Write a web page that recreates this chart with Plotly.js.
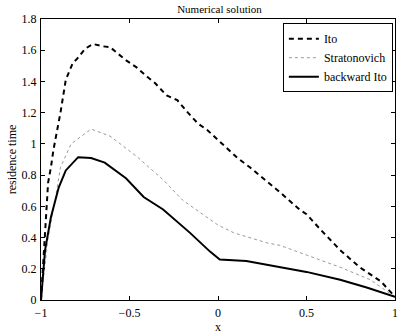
<!DOCTYPE html>
<html><head><meta charset="utf-8">
<script src="https://cdn.plot.ly/plotly-3.0.1.min.js"></script>
<style>html,body{margin:0;padding:0;background:#fff}#c{width:399px;height:334px}</style>
</head><body><div id="c"></div>
<script>
const itoX = [-1, -0.977, -0.96, -0.944, -0.93, -0.89, -0.86, -0.82, -0.80, -0.75, -0.706, -0.65, -0.61, -0.525, -0.46, -0.40, -0.356, -0.29, -0.23, -0.17, -0.113, -0.062, 0.05, 0.11, 0.18, 0.35, 0.46, 0.5, 0.58, 0.69, 0.8, 0.92, 1];
const itoY = [0.0, 0.43, 0.75, 0.85, 0.96, 1.20, 1.41, 1.52, 1.54, 1.61, 1.64, 1.625, 1.62, 1.54, 1.49, 1.43, 1.39, 1.31, 1.28, 1.20, 1.13, 1.09, 0.97, 0.91, 0.85, 0.69, 0.58, 0.55, 0.45, 0.32, 0.21, 0.12, 0.02];
const strX = [-1, -0.96, -0.92, -0.89, -0.83, -0.717, -0.61, -0.46, -0.31, -0.2, -0.1, 0, 0.09, 0.18, 0.28, 0.35, 0.5, 0.69, 0.86, 1];
const strY = [0.0, 0.40, 0.64, 0.85, 1.0, 1.095, 1.05, 0.92, 0.77, 0.64, 0.56, 0.48, 0.43, 0.40, 0.365, 0.35, 0.29, 0.21, 0.13, 0.02];
const bitoX = [-1, -0.977, -0.944, -0.90, -0.86, -0.79, -0.717, -0.64, -0.52, -0.42, -0.31, -0.158, -0.045, 0.01, 0.16, 0.29, 0.5, 0.69, 0.84, 1];
const bitoY = [0.0, 0.32, 0.53, 0.72, 0.83, 0.915, 0.91, 0.88, 0.78, 0.66, 0.58, 0.43, 0.31, 0.26, 0.25, 0.225, 0.18, 0.13, 0.08, 0.02];
const names = ['Ito', 'Stratonovich', 'backward Ito'];
const xTicks = [-1, -0.5, 0, 0.5, 1];
const yTicks = [0, 0.2, 0.4, 0.6, 0.8, 1, 1.2, 1.4, 1.6, 1.8];

const fam = 'Liberation Serif, Times New Roman, serif';
const font = {family: fam, color: '#000', size: 12};
const traces = [
  {x: itoX, y: itoY, name: names[0], mode: 'lines', line: {color: '#000', width: 2, dash: '5px,4px'}},
  {x: strX, y: strY, name: names[1], mode: 'lines', line: {color: '#999', width: 1, dash: 'dot'}},
  {x: bitoX, y: bitoY, name: names[2], mode: 'lines', line: {color: '#000', width: 2}}
];
const axisCommon = {showgrid: false, zeroline: false, showline: true, linecolor: '#000', linewidth: 1,
  mirror: 'ticks', ticks: 'inside', ticklen: 4, tickcolor: '#000', tickfont: font};
const layout = {
  width: 399, height: 334,
  margin: {l: 41, r: 4, t: 19, b: 34},
  paper_bgcolor: '#fff', plot_bgcolor: '#fff',
  font: font,
  title: {text: 'Numerical solution', font: {family: fam, size: 11, color: '#000'}, x: 0.55, xanchor: 'center', y: 0.985, yanchor: 'top'},
  xaxis: Object.assign({}, axisCommon, {range: [-1, 1], tickvals: xTicks, ticktext: xTicks.map(v => v < 0 ? '\u2212' + Math.abs(v) : String(v)),
    ticklabelstandoff: 2, title: {text: 'x', font: font, standoff: 0}}),
  yaxis: Object.assign({}, axisCommon, {range: [0, 1.8], tickvals: yTicks, ticklabelstandoff: 1,
    title: {text: 'residence time', font: font, standoff: 2}}),
  showlegend: true,
  legend: {x: 0.994, xanchor: 'right', y: 0.985, yanchor: 'top', bgcolor: '#fff', bordercolor: '#000', borderwidth: 1,
    font: {family: fam, size: 12, color: '#000'}, tracegroupgap: 0, itemwidth: 30}
};
Plotly.newPlot('c', traces, layout, {staticPlot: true});
</script></body></html>
